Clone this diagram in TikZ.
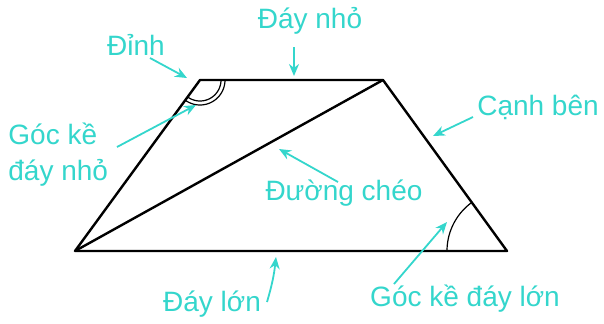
\documentclass[tikz,border=0pt]{standalone}
\usepackage{fontspec}
\setmainfont{Liberation Sans}
\usetikzlibrary{arrows.meta}
\definecolor{lbl}{RGB}{52,214,204}
\begin{document}
\begin{tikzpicture}[x=0.5pt,y=-0.5pt,
  edge/.style={line width=1.2pt,line join=round},
  angarc/.style={line width=0.6pt},
  lab/.style={text=lbl,font=\fontsize{14}{17}\selectfont,inner sep=0pt},
  pointer/.style={draw=lbl,line width=0.9pt,-{Stealth[length=6pt,width=5pt]}}]
\useasboundingbox (0,0) rectangle (604,323);
% vertices
\coordinate (A) at (75,251);
\coordinate (B) at (507,251);
\coordinate (C) at (383,80);
\coordinate (D) at (200,80);
% trapezoid and diagonal
\draw[edge] (A) -- (B) -- (C) -- (D) -- cycle;
\draw[edge] (A) -- (C);
% angle marks
\draw[angarc] plot[domain=0:126.2,samples=30] ({200+21*cos(\x)},{80+21*sin(\x)});
\draw[angarc] plot[domain=0:126.2,samples=30] ({200+25*cos(\x)},{80+25*sin(\x)});
\draw[angarc] plot[domain=180:234,samples=30] ({507+60*cos(\x)},{251+60*sin(\x)});
% labels
\node[lab] (dinh) at (136,45) {Đỉnh};
\node[lab] (daynho) at (310,21) {Đáy nhỏ};
\node[lab,anchor=west,align=left] (gocnho) at (8,155) {Góc kề\\[1pt]đáy nhỏ};
\node[lab] (canhben) at (538,107) {Cạnh bên};
\node[lab] (cheo) at (344,193) {Đường chéo};
\node[lab] (daylon) at (212,304) {Đáy lớn};
\node[lab] (goclon) at (465,299) {Góc kề đáy lớn};
% pointer ends
\coordinate (t1) at (150,58);   \coordinate (h1) at (187,78);
\coordinate (t2) at (294,47);   \coordinate (h2) at (294,76);
\coordinate (t3) at (117,147);  \coordinate (h3) at (196,105);
\coordinate (t4) at (473,117);  \coordinate (h4) at (433,136);
\coordinate (t5) at (338,182);  \coordinate (h5) at (279,149);
\coordinate (t6) at (267,302);  \coordinate (h6) at (276,257);
\coordinate (t7) at (394,284);  \coordinate (h7) at (447,222);
\draw[pointer] (t1) -- (h1);
\draw[pointer] (t2) -- (h2);
\draw[pointer] (t3) -- (h3);
\draw[pointer] (t4) -- (h4);
\draw[pointer] (t5) -- (h5);
\draw[pointer] (t6) to[bend right=5] (h6);
\draw[pointer] (t7) -- (h7);
\end{tikzpicture}
\end{document}
